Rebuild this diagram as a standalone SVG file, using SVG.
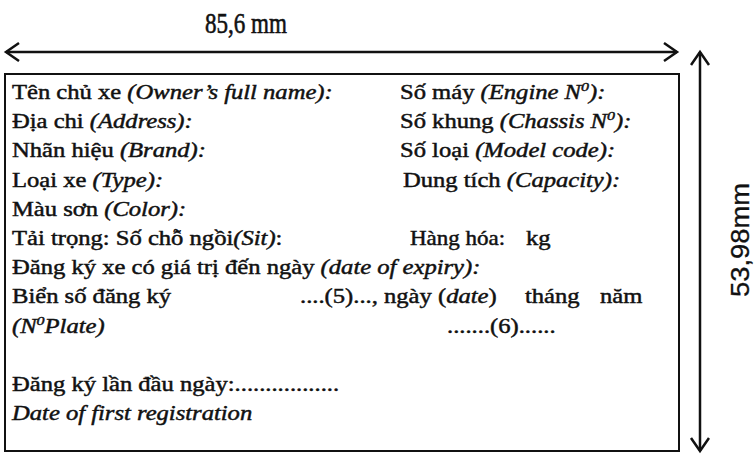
<svg xmlns="http://www.w3.org/2000/svg" width="756" height="454" viewBox="0 0 756 454">
  <style>
    .t { font-family: "Liberation Serif", "Times New Roman", serif; font-size: 20px; fill: #111; stroke: #111; stroke-width: 0.45; }
    .i { font-style: italic; }
    .dim { font-family: "Liberation Serif", "Times New Roman", serif; font-size: 30px; fill: #111; stroke: #111; stroke-width: 0.6; }
    .dimv { font-family: "Liberation Sans", Arial, sans-serif; font-size: 25px; fill: #111; stroke: #111; stroke-width: 0.3; }
    .ln { stroke: #111; stroke-width: 2.5; fill: none; }
  </style>
  <defs>
    <marker id="arr" markerUnits="userSpaceOnUse" markerWidth="18" markerHeight="22" refX="15" refY="10" orient="auto-start-reverse">
      <path d="M2,1 L15,10 L2,19" fill="none" stroke="#111" stroke-width="2.5"/>
    </marker>
  </defs>
  <rect width="756" height="454" fill="#fff"/>

  <g id="connectors">
    <line class="ln" x1="6" y1="52" x2="677" y2="52" marker-start="url(#arr)" marker-end="url(#arr)"/>
    <line class="ln" x1="700" y1="52" x2="700" y2="451" marker-start="url(#arr)" marker-end="url(#arr)"/>
  </g>

  <g id="label-width">
    <text class="dim" x="205" y="33" textLength="82" lengthAdjust="spacingAndGlyphs">85,6 mm</text>
  </g>
  <g id="label-height">
    <text class="dimv" transform="translate(749,297) rotate(-90)" textLength="114" lengthAdjust="spacingAndGlyphs">53,98mm</text>
  </g>

  <g id="card">
    <rect x="5" y="74" width="674" height="377" fill="none" stroke="#111" stroke-width="2"/>
    <g id="left-column">
      <text class="t" transform="translate(12,99) scale(1.23,1)">Tên chủ xe <tspan class="i">(Owner’s full name):</tspan></text>
      <text class="t" transform="translate(12,128) scale(1.23,1)">Địa chi <tspan class="i">(Address):</tspan></text>
      <text class="t" transform="translate(12,157) scale(1.23,1)">Nhãn hiệu <tspan class="i">(Brand):</tspan></text>
      <text class="t" transform="translate(12,187) scale(1.23,1)">Loại xe <tspan class="i">(Type):</tspan></text>
      <text class="t" transform="translate(12,216) scale(1.23,1)">Màu sơn <tspan class="i">(Color):</tspan></text>
      <text class="t" transform="translate(12,245) scale(1.23,1)">Tải trọng: Số chỗ ngồi<tspan class="i">(Sit)</tspan>:</text>
      <text class="t" transform="translate(12,274) scale(1.23,1)">Đăng ký xe có giá trị đến ngày <tspan class="i">(date of expiry):</tspan></text>
      <text class="t" transform="translate(12,303) scale(1.23,1)">Biển số đăng ký</text>
      <text class="t i" transform="translate(12,333) scale(1.23,1)">(N<tspan font-size="13" dy="-8">0</tspan><tspan dy="8">Plate)</tspan></text>
      <text class="t" transform="translate(12,391) scale(1.23,1)">Đăng ký lần đầu ngày:.................</text>
      <text class="t i" transform="translate(12,420) scale(1.23,1)">Date of first registration</text>
    </g>
    <g id="right-column">
      <text class="t" transform="translate(400,99) scale(1.23,1)">Số máy <tspan class="i">(Engine N</tspan><tspan class="i" font-size="13" dy="-8">0</tspan><tspan class="i" dy="8">):</tspan></text>
      <text class="t" transform="translate(400,128) scale(1.23,1)">Số khung <tspan class="i">(Chassis N</tspan><tspan class="i" font-size="13" dy="-8">0</tspan><tspan class="i" dy="8">):</tspan></text>
      <text class="t" transform="translate(400,157) scale(1.23,1)">Số loại <tspan class="i">(Model code):</tspan></text>
      <text class="t" transform="translate(403,187) scale(1.23,1)">Dung tích <tspan class="i">(Capacity):</tspan></text>
      <text class="t" transform="translate(410,245) scale(1.15,1)">Hàng hóa:</text>
      <text class="t" transform="translate(526,245) scale(1.23,1)">kg</text>
      <text class="t" transform="translate(300,303) scale(1.23,1)">....(5)..., ngày (<tspan class="i">date</tspan>)</text>
      <text class="t" transform="translate(525,303) scale(1.23,1)">tháng</text>
      <text class="t" transform="translate(600,303) scale(1.23,1)">năm</text>
      <text class="t" transform="translate(447,333) scale(1.23,1)">.......(6)......</text>
    </g>
  </g>
</svg>
